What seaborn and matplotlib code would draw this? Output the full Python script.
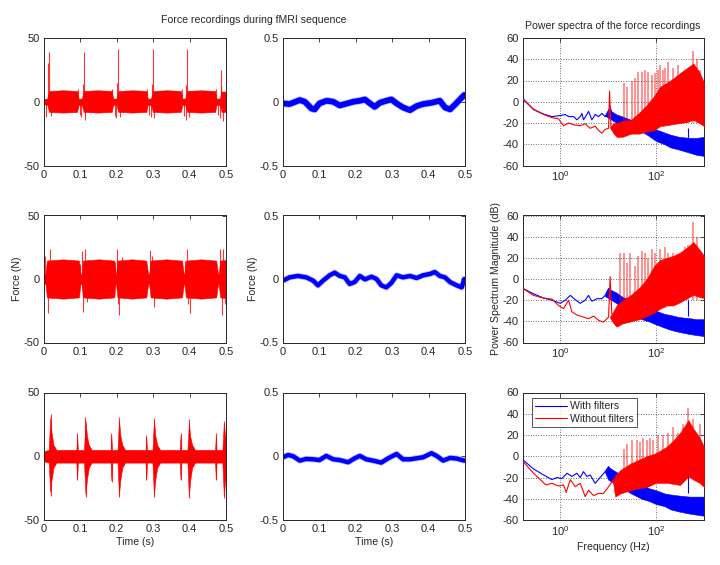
import numpy as np
import pandas as pd
import matplotlib
matplotlib.use("Agg")
import matplotlib.pyplot as plt
import seaborn as sns

# ---------------- data ----------------
# time-domain, without filters (red): envelope knots of the dense oscillation + spikes
A_env_t = [0.000, 0.009, 0.014, 0.052, 0.091, 0.095, 0.104, 0.109, 0.148, 0.186, 0.190, 0.199, 0.204, 0.243, 0.281,
           0.285, 0.294, 0.299, 0.338, 0.376, 0.380, 0.388, 0.393, 0.432, 0.470, 0.474, 0.483, 0.488, 0.500]
A_env_up = [2, 2.5, 8.5, 9, 8.5, 2.5, 2.5, 8.5, 9, 8.5, 2.5, 2.5, 8.5, 9, 8.5,
            2.5, 2.5, 8.5, 9, 8.5, 2.5, 2.5, 8.5, 9, 8.5, 2.5, 2.5, 8, 8]
A_env_lo = [-2, -2.5, -8, -8.5, -8, -2.5, -2.5, -8, -8.5, -8, -2.5, -2.5, -8, -8.5, -8,
            -2.5, -2.5, -8, -8.5, -8, -2.5, -2.5, -8, -8.5, -8, -2.5, -2.5, -8, -8]
A_spk_t = [0.0137, 0.0110, 0.0060, 0.0180, 0.0930, 0.0990, 0.1030, 0.1090, 0.1060, 0.1130, 0.1880, 0.1940,
           0.1990, 0.2040, 0.2010, 0.2080, 0.2830, 0.2890, 0.2940, 0.2990, 0.2960, 0.3030, 0.3780, 0.3840,
           0.3890, 0.3930, 0.3910, 0.3970, 0.4720, 0.4780, 0.4830, 0.4870, 0.4850, 0.4910]
A_spk_v = [39, 30, -12, -11, 10, -10, -12, 39, 14, -14, 10, -11,
           -13, 41, 15, -12, 10, -10, -12, 41, 14, -13, 10, -11,
           -14, 41, 13, -12, 10, -10, -13, 25, 12, -15]

B_env_t = [0.000, 0.004, 0.008, 0.052, 0.096, 0.100, 0.103, 0.107, 0.150, 0.193, 0.196, 0.198, 0.202, 0.242, 0.281,
           0.286, 0.289, 0.293, 0.336, 0.379, 0.384, 0.386, 0.390, 0.432, 0.473, 0.478, 0.480, 0.484, 0.500]
B_env_up = [3, 4, 14.5, 15.5, 14.5, 4, 4, 14.5, 15.5, 14.5, 4, 4, 14.5, 15.5, 14.5,
            4, 4, 14.5, 15.5, 14.5, 4, 4, 14.5, 15.5, 14.5, 4, 4, 14.5, 15]
B_env_lo = [-3, -4, -14.5, -15.5, -14.5, -4, -4, -14.5, -15.5, -14.5, -4, -4, -14.5, -15.5, -14.5,
            -4, -4, -14.5, -15.5, -14.5, -4, -4, -14.5, -15.5, -14.5, -4, -4, -14.5, -15]
B_spk_t = [0.010, 0.016, 0.004, 0.020, 0.099, 0.104, 0.112, 0.108, 0.117, 0.195, 0.200, 0.207, 0.203,
           0.213, 0.290, 0.296, 0.301, 0.305, 0.386, 0.392, 0.400, 0.396, 0.484, 0.489, 0.492, 0.497]
B_spk_v = [-27, 24, 18, -15, 12, 22, 24, -26, -18, 13, 24, -28, -20,
           17, 23, 18, -22, -15, 14, 24, -27, -20, 24, -28, 24, -20]

C_env_t = [0.000, 0.013, 0.017, 0.021, 0.026, 0.034, 0.089, 0.091, 0.093, 0.110, 0.114, 0.118, 0.123, 0.131,
           0.183, 0.185, 0.187, 0.202, 0.206, 0.210, 0.215, 0.223, 0.279, 0.281, 0.283, 0.298, 0.302, 0.306,
           0.311, 0.319, 0.373, 0.375, 0.377, 0.394, 0.398, 0.402, 0.407, 0.415, 0.470, 0.472, 0.474, 0.490,
           0.494, 0.498, 0.500]
C_env_up = [4, 5, 30, 18, 9, 5, 5, 16, 5, 5, 28, 16, 9, 5, 5, 16, 5, 5, 28, 16, 9, 5, 5, 15, 5, 5, 28, 16,
            9, 5, 5, 16, 5, 5, 26, 15, 9, 5, 5, 16, 5, 5, 26, 15, 12]
C_env_lo = [-4, -5, -28, -18, -9, -5, -5, -18, -5, -5, -30, -18, -9, -5, -5, -19, -5, -5, -30, -18, -9, -5,
            -5, -18, -5, -5, -30, -18, -9, -5, -5, -18, -5, -5, -31, -18, -9, -5, -5, -18, -5, -5, -31, -18, -20]
C_spk_t = [0.018, 0.018, 0.091, 0.091, 0.114, 0.115, 0.185, 0.186, 0.206, 0.207, 0.281, 0.280,
           0.302, 0.303, 0.375, 0.376, 0.398, 0.399, 0.472, 0.472, 0.494, 0.495]
C_spk_v = [33, -31, 18, -19, 31, -32, 18, -20, 31, -32, 17, -19,
           30, -32, 18, -19, 29, -33, 18, -19, 28, -33]

# time-domain, with filters (blue): centre line
D_t = [0.000, 0.018, 0.046, 0.060, 0.078, 0.087, 0.100, 0.120, 0.138, 0.156, 0.170, 0.193, 0.211, 0.225, 0.239,
       0.252, 0.266, 0.284, 0.298, 0.312, 0.330, 0.349, 0.367, 0.385, 0.408, 0.431, 0.445, 0.459, 0.472, 0.486, 0.498]
D_v = [-0.013, -0.018, 0.013, 0.000, -0.053, -0.060, -0.013, 0.008, 0.000, -0.029, -0.018, 0.000, 0.008, 0.018,
       -0.013, -0.040, -0.008, 0.008, 0.018, -0.013, -0.045, -0.066, -0.034, -0.018, -0.008, 0.008, -0.045, -0.060,
       -0.024, 0.018, 0.053]
E_t = [0.000, 0.018, 0.041, 0.064, 0.083, 0.096, 0.110, 0.128, 0.142, 0.156, 0.170, 0.183, 0.197, 0.211, 0.225,
       0.243, 0.257, 0.270, 0.284, 0.298, 0.312, 0.330, 0.349, 0.367, 0.385, 0.404, 0.417, 0.431, 0.445, 0.459,
       0.477, 0.491, 0.498]
E_v = [-0.013, 0.013, 0.024, 0.013, -0.013, -0.050, -0.013, 0.029, 0.050, 0.024, 0.013, -0.039, -0.024, 0.024,
       -0.003, 0.018, 0.000, -0.050, -0.066, -0.030, 0.029, 0.013, 0.024, 0.008, 0.029, 0.040, 0.055, 0.024, 0.013,
       -0.024, -0.050, -0.066, 0.000]
F_t = [0.000, 0.014, 0.028, 0.046, 0.064, 0.083, 0.100, 0.119, 0.138, 0.156, 0.179, 0.197, 0.211, 0.229, 0.247,
       0.270, 0.289, 0.312, 0.330, 0.349, 0.367, 0.385, 0.408, 0.422, 0.440, 0.459, 0.477, 0.498]
F_v = [-0.008, 0.010, 0.000, -0.034, -0.021, -0.024, -0.030, 0.003, -0.024, -0.030, -0.047, -0.016, 0.003,
       -0.024, -0.034, -0.050, -0.016, 0.018, -0.024, -0.024, -0.016, -0.008, 0.024, 0.003, -0.034, -0.013,
       -0.018, -0.034]

# power spectra: low-frequency lines
S1_b_f = [0.167, 0.278, 0.45, 0.67, 1.0, 1.27, 1.49, 1.9, 2.22, 2.61, 2.83, 3.06, 3.59, 3.89, 4.57, 5.36, 6.29,
          7.38, 8.66, 10.2, 11.0, 11.9]
S1_b_v = [3, -7.5, -11.6, -14, -13, -12, -14, -14, -17, -14, -11, -17, -12, -9, -17, -12, -14, -11, -14, -9, -5, -10]
S1_r_f = [0.167, 0.278, 0.45, 0.67, 0.92, 1.17, 1.49, 1.9, 2.61, 3.32, 4.22, 5.36, 6.29, 7.38, 8.66, 10.2, 10.7, 11.4]
S1_r_v = [2, -7, -12, -15, -16, -22.6, -20, -21.7, -22.6, -20.7, -25, -23, -27, -29.5, -26, -25, 10, -23]
S2_b_f = [0.167, 0.278, 0.45, 0.67, 1.0, 1.27, 1.62, 2.05, 2.61, 3.32, 3.89, 4.57, 5.81, 7.38, 8.66, 10.2, 11.9]
S2_b_v = [-9, -14, -18, -20, -23, -20, -15.5, -19.5, -23, -20, -15.5, -21, -18.6, -18.6, -15.5, -9, -14]
S2_r_f = [0.167, 0.278, 0.45, 0.67, 0.92, 1.17, 1.49, 1.75, 2.22, 3.06, 3.89, 4.95, 6.29, 8.0, 10.2, 11.0, 11.9]
S2_r_v = [-9, -15.5, -18, -19, -25, -28, -20, -31, -34, -36, -37.5, -35, -39, -40.7, -36, 2, -33]
S3_b_f = [0.167, 0.278, 0.45, 0.67, 0.85, 1.08, 1.38, 1.75, 2.22, 2.61, 3.06, 3.59, 4.22, 5.36, 6.81, 8.66, 10.2, 11.9]
S3_b_v = [-3.5, -12, -17.6, -22, -20, -21, -16, -19, -16, -20, -14.5, -19, -17.6, -25.5, -20, -14.5, -9.7, -14.5]
S3_r_f = [0.167, 0.278, 0.50, 0.67, 0.92, 1.17, 1.33, 1.62, 2.05, 2.61, 3.32, 3.89, 4.95, 6.29, 8.0, 10.2, 12.9, 15.2]
S3_r_v = [-5, -16, -27, -25.5, -28, -27, -34, -22, -28.6, -25.5, -38, -32, -37, -35, -35, -28.6, -22, -24]

# power spectra: dense high-frequency bands (envelopes)
SB_f = [8.5, 10, 15, 20, 30, 50, 70, 100, 150, 200, 300, 500, 700, 1000]
S1_b_up = [-13, -7, -12, -14, -17, -20, -23, -26, -29, -31, -33, -34, -34, -33]
S1_b_lo = [-13, -15, -20, -22, -24, -28, -32, -37, -40, -43, -45, -48, -50, -51]
S2_b_up = [-16, -9, -13, -17, -20, -25, -28, -30, -33, -34, -36, -37, -38, -38]
S2_b_lo = [-16, -18, -23, -27, -32, -38, -40, -43, -46, -48, -50, -52, -53, -54]
S3_b_up = [-14.5, -10, -15, -18, -22, -27, -30, -32, -35, -36, -37, -38, -38, -38]
S3_b_lo = [-14.5, -22, -27, -30, -35, -40, -42, -45, -47, -50, -52, -54, -55, -56]

SR_f = [10.8, 13, 15, 20, 30, 45, 64, 90, 121, 170, 230, 316, 450, 600, 800, 1000]
S1_r_up = [-24, -20, -20, -18, -17, -10, -3, 5, 14, 18, 22, 27, 32, 36, 28, 18]
S1_r_lo = [-24, -30, -33, -33, -30, -30, -28, -27, -23, -22, -21, -20, -19, -17, -20, -23]
S2_r_up = [-36, -30, -25, -20, -15, -8, 0, 12, 18, 20, 22, 25, 30, 35, 28, 22]
S2_r_lo = [-36, -42, -45, -42, -40, -38, -35, -32, -28, -25, -25, -22, -18, -15, -17, -18]
S3R_f = [12.5, 14, 18, 29, 45, 64, 100, 167, 230, 316, 472, 600, 800, 1000]
S3_r_up = [-23, -18, -13, -7, -3, 0, 3, 9, 15, 22, 34, 26, 18, 9]
S3_r_lo = [-23, -38, -35, -32, -30, -29, -25, -25, -26, -27, -19, -22, -25, -29]

# power spectra: harmonic spikes (without filters) and single spike (with filters)
S1_rspk_f = [20.9, 24.5, 31.1, 36, 42.9, 50.3, 59.0, 69.2, 81.2, 95.3, 111.6, 121, 142, 154, 181, 229, 291, 402, 599, 700, 823]
S1_rspk_v = [18, 14, 20, 22, 28, 28, 30, 28, 25, 27, 30, 35, 30, 32, 37, 32, 35, 28, 48, 40, 30]
S2_rspk_f = [17.7, 20.9, 24.5, 28.7, 36, 42.9, 50.3, 59, 69.2, 81.2, 95.3, 121, 154, 181, 229, 316, 402, 472, 599, 700]
S2_rspk_v = [25, 25, 15, 25, 12, 22, 26, 25, 20, 28, 25, 28, 30, 25, 25, 20, 30, 32, 54, 40]
S3_rspk_f = [20.9, 24.5, 31.1, 39.6, 46.4, 54.5, 63.9, 75, 88, 111.6, 142, 181, 229, 291, 371, 472, 599, 823]
S3_rspk_v = [7, 12, 15, 15, 13, 17, 15, 17, 15, 20, 20, 22, 28, 22, 30, 45, 35, 30]
S_bspk_f = [472, 472, 472]
S_bspk_v = [-25, -20, -8]

time_ticks = [0, 0.1, 0.2, 0.3, 0.4, 0.5]
time_ticklabels = ["0", "0.1", "0.2", "0.3", "0.4", "0.5"]
legend_labels = ["With filters", "Without filters"]

# ---------------- style ----------------
sns.set_style("white")
plt.rcParams["font.family"] = ["Liberation Sans", "DejaVu Sans"]
plt.rcParams["mathtext.fontset"] = "custom"
plt.rcParams["mathtext.rm"] = "Liberation Sans"
plt.rcParams["mathtext.it"] = "Liberation Sans"
plt.rcParams["mathtext.bf"] = "Liberation Sans"
plt.rcParams["axes.unicode_minus"] = False

RED = "#ff0000"
BLUE = "#0000ff"
TXT = "#262626"
FS = 7.6

fig = plt.figure(figsize=(7.2, 5.65), dpi=100)


def rect(l, t, r, b):
    return [l / 720, 1 - b / 565, (r - l) / 720, (b - t) / 565]


cols = [(44, 226), (283, 465), (523, 704)]
rows = [(38, 165.5), (215.5, 342.5), (392.5, 520)]


def style(ax):
    for s in ax.spines.values():
        s.set_color(TXT)
        s.set_linewidth(0.7)
    ax.tick_params(direction="in", top=True, right=True, length=3, width=0.6,
                   labelsize=FS + 0.4, colors=TXT, pad=3)


red_sets = [(A_env_t, A_env_up, A_env_lo, A_spk_t, A_spk_v),
            (B_env_t, B_env_up, B_env_lo, B_spk_t, B_spk_v),
            (C_env_t, C_env_up, C_env_lo, C_spk_t, C_spk_v)]
blue_sets = [(D_t, D_v, 4.2), (E_t, E_v, 3.2), (F_t, F_v, 3.2)]

for i in range(3):
    # red time-domain
    ax = fig.add_axes(rect(cols[0][0], rows[i][0], cols[0][1], rows[i][1]))
    et, eu, el, st, sv = red_sets[i]
    ax.fill_between(et, el, eu, color=RED, linewidth=0.4, edgecolor=RED)
    ax.vlines(st, 0, sv, color=RED, linewidth=0.8, alpha=0.8)
    ax.set_xlim(0, 0.5)
    ax.set_ylim(-50, 50)
    ax.set_yticks([-50, 0, 50])
    ax.set_xticks(time_ticks)
    ax.set_xticklabels(time_ticklabels)
    style(ax)

    # blue time-domain
    ax = fig.add_axes(rect(cols[1][0], rows[i][0], cols[1][1], rows[i][1]))
    bt, bv, lw = blue_sets[i]
    sns.lineplot(x=bt, y=bv, ax=ax, color="#5555ff", linewidth=lw + 1.2, estimator=None, alpha=0.35)
    sns.lineplot(x=bt, y=bv, ax=ax, color=BLUE, linewidth=lw, estimator=None)
    ax.set_xlim(0, 0.5)
    ax.set_ylim(-0.5, 0.5)
    ax.set_yticks([-0.5, 0, 0.5])
    ax.set_yticklabels(["-0.5", "0", "0.5"])
    ax.set_xticks(time_ticks)
    ax.set_xticklabels(time_ticklabels)
    style(ax)

spec_sets = [
    (S1_b_f, S1_b_v, S1_r_f, S1_r_v, S1_b_up, S1_b_lo, SR_f, S1_r_up, S1_r_lo, S1_rspk_f, S1_rspk_v),
    (S2_b_f, S2_b_v, S2_r_f, S2_r_v, S2_b_up, S2_b_lo, SR_f, S2_r_up, S2_r_lo, S2_rspk_f, S2_rspk_v),
    (S3_b_f, S3_b_v, S3_r_f, S3_r_v, S3_b_up, S3_b_lo, S3R_f, S3_r_up, S3_r_lo, S3_rspk_f, S3_rspk_v),
]
for i in range(3):
    ax = fig.add_axes(rect(cols[2][0], rows[i][0], cols[2][1], rows[i][1]))
    bf, bv, rf, rv, bup, blo, rbf, rup, rlo, pf, pv = spec_sets[i]
    ax.set_xscale("log")
    ax.fill_between(SB_f, blo, bup, color=BLUE, linewidth=0.4, edgecolor=BLUE, zorder=2)
    ax.vlines([S_bspk_f[i]], -35, [S_bspk_v[i]], color=BLUE, linewidth=0.8, zorder=2)
    sns.lineplot(x=bf, y=bv, ax=ax, color=BLUE, linewidth=0.8, estimator=None,
                 label=legend_labels[0], zorder=3)
    ax.vlines(pf, -20, pv, color=RED, linewidth=1.2, alpha=0.5, zorder=3)
    ax.fill_between(rbf, rlo, rup, color=RED, linewidth=0.4, edgecolor=RED, zorder=3)
    sns.lineplot(x=rf, y=rv, ax=ax, color=RED, linewidth=0.8, estimator=None,
                 label=legend_labels[1], zorder=3)
    ax.set_xlim(0.167, 1000)
    ax.set_ylim(-60, 60)
    ax.set_yticks([-60, -40, -20, 0, 20, 40, 60])
    ax.xaxis.set_major_locator(matplotlib.ticker.FixedLocator([1, 100]))
    ax.xaxis.set_minor_locator(matplotlib.ticker.NullLocator())
    ax.set_xticklabels(["10$^{0}$", "10$^{2}$"])
    ax.grid(True, which="major", linestyle=(0, (1, 2)), color="#404040", linewidth=0.6)
    ax.set_axisbelow(True)
    style(ax)
    if i == 2:
        leg = ax.legend(loc="upper left", bbox_to_anchor=(0.05, 0.955), fontsize=FS,
                        frameon=True, fancybox=False, borderpad=0.3, labelspacing=0.2,
                        handlelength=3.0, handletextpad=0.3, borderaxespad=0)
        leg.get_frame().set_edgecolor(TXT)
        leg.get_frame().set_linewidth(0.7)
        for t in leg.get_texts():
            t.set_color(TXT)
    else:
        lg = ax.get_legend()
        if lg is not None:
            lg.remove()

# labels and titles
fig.text(254 / 720, 1 - 20 / 565, "Force recordings during fMRI sequence", ha="center", va="center",
         fontsize=FS, color=TXT)
fig.text(613 / 720, 1 - 26 / 565, "Power spectra of the force recordings", ha="center", va="center",
         fontsize=FS, color=TXT)
fig.text(17 / 720, 1 - 279 / 565, "Force (N)", rotation=90, ha="center", va="center", fontsize=FS, color=TXT)
fig.text(253 / 720, 1 - 279 / 565, "Force (N)", rotation=90, ha="center", va="center", fontsize=FS, color=TXT)
fig.text(496 / 720, 1 - 279 / 565, "Power Spectrum Magnitude (dB)", rotation=90, ha="center", va="center",
         fontsize=FS, color=TXT)
fig.text(135 / 720, 1 - 542 / 565, "Time (s)", ha="center", va="center", fontsize=FS, color=TXT)
fig.text(374 / 720, 1 - 542 / 565, "Time (s)", ha="center", va="center", fontsize=FS, color=TXT)
fig.text(613 / 720, 1 - 547 / 565, "Frequency (Hz)", ha="center", va="center", fontsize=FS, color=TXT)

fig.savefig("out.png", dpi=100)
